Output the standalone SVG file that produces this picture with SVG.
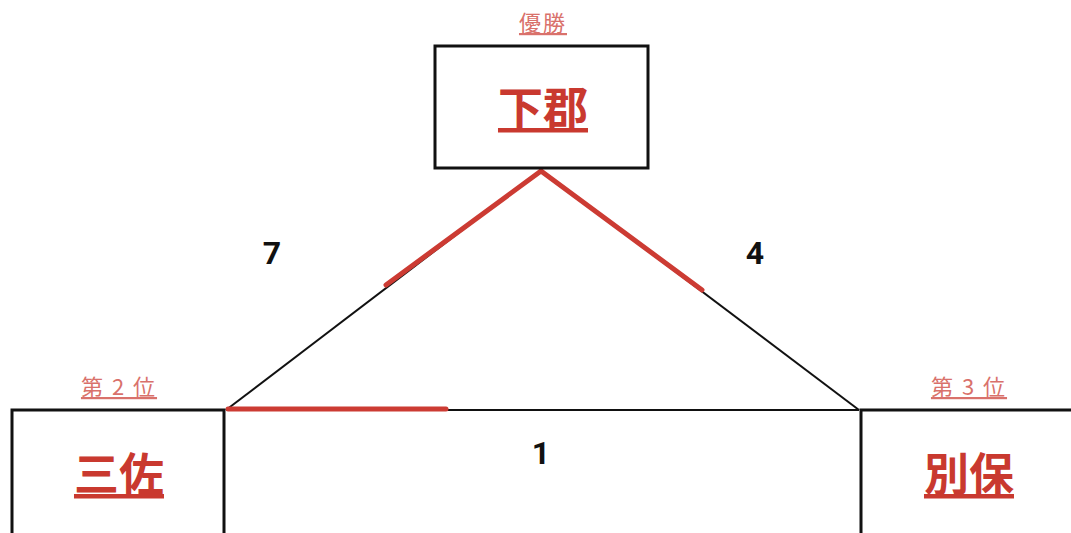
<svg xmlns="http://www.w3.org/2000/svg" width="1071" height="533" viewBox="0 0 1071 533">
<style>
.box{fill:#fff;stroke:#111;stroke-width:3}
.name{font-family:"Noto Sans CJK JP","Noto Sans CJK SC",sans-serif;font-weight:bold;font-size:45px;fill:#c9392f;text-anchor:middle;text-decoration:underline}
.rank{font-family:"Noto Sans CJK JP","Noto Sans CJK SC",sans-serif;font-size:22px;fill:#d9716b;text-anchor:middle;text-decoration:underline;letter-spacing:2px}
.score{font-family:"Roboto","Liberation Sans",sans-serif;font-weight:bold;font-size:32px;fill:#111;text-anchor:middle}
.thin{stroke:#111;stroke-width:2;fill:none}
.win{stroke:#cc3b33;stroke-width:5;fill:none;stroke-linecap:round}
</style>
<rect width="1071" height="533" fill="#fff"/>
<g id="connectors">
<line class="thin" x1="541" y1="170" x2="226" y2="410"/>
<line class="thin" x1="541" y1="170" x2="859" y2="410"/>
<line class="thin" x1="226" y1="410" x2="859" y2="410"/>
<line class="win" x1="541" y1="171" x2="386" y2="285"/>
<line class="win" x1="541" y1="171" x2="702" y2="290"/>
<line class="win" x1="228" y1="409" x2="446" y2="409"/>
<text class="score" x="272" y="264">7</text>
<text class="score" x="755" y="264">4</text>
<text class="score" x="541" y="464">1</text>
</g>
<g id="node-shimogori">
<text class="rank" x="543" y="31">優勝</text>
<rect class="box" x="435" y="46" width="213" height="122"/>
<text class="name" x="543" y="125">下郡</text>
</g>
<g id="node-sansa">
<text class="rank" x="119" y="395">第 2 位</text>
<rect class="box" x="12" y="410" width="212" height="130"/>
<text class="name" x="119" y="491">三佐</text>
</g>
<g id="node-beppo">
<text class="rank" x="969" y="395">第 3 位</text>
<rect class="box" x="861" y="410" width="220" height="130"/>
<text class="name" x="969" y="491">別保</text>
</g>
</svg>
